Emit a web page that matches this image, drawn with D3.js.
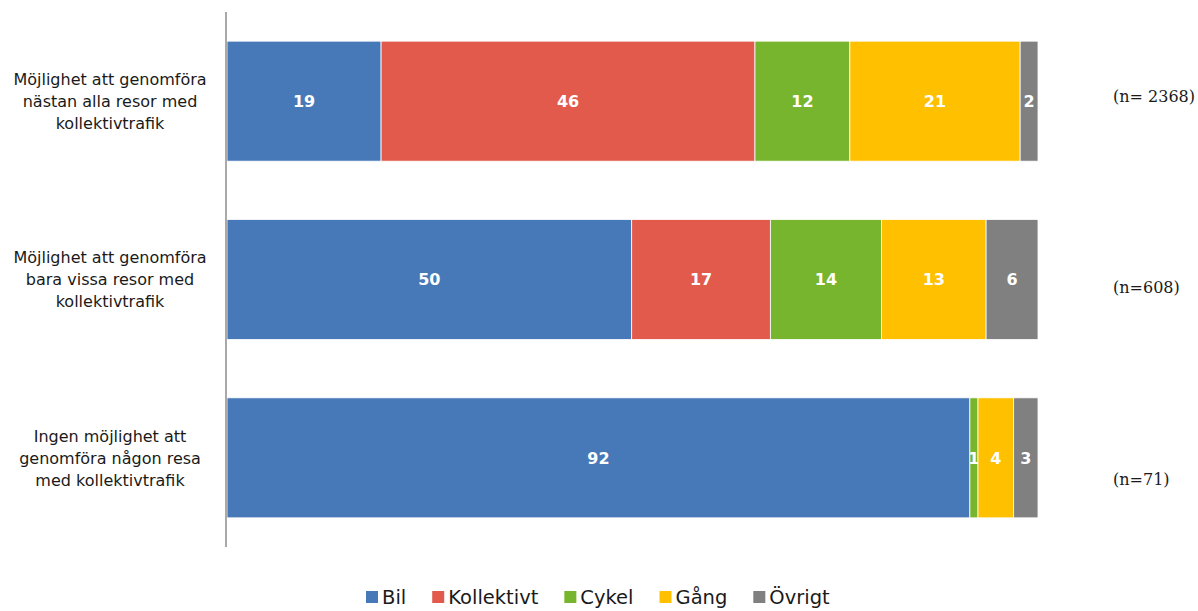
<!DOCTYPE html>
<html>
<head>
<meta charset="utf-8">
<script src="https://cdn.jsdelivr.net/npm/d3@7"></script>
<style>
  body { margin: 0; background: #fff; }
  svg { display: block; }
</style>
</head>
<body>
<svg id="chart" width="1198" height="611"></svg>
<script>
const categories = [
  ['Möjlighet att genomföra', 'nästan alla resor med', 'kollektivtrafik'],
  ['Möjlighet att genomföra', 'bara vissa resor med', 'kollektivtrafik'],
  ['Ingen möjlighet att', 'genomföra någon resa', 'med kollektivtrafik'],
];
const seriesNames = ['Bil', 'Kollektivt', 'Cykel', 'Gång', 'Övrigt'];
const colors = ['#4779b9', '#e15a4c', '#78b52e', '#ffc000', '#808080'];
const bil = [19.0, 49.9, 91.6];
const kollektivt = [46.1, 17.1, 0];
const cykel = [11.7, 13.7, 1.0];
const gang = [21.0, 12.9, 4.4];
const ovrigt = [2.2, 6.4, 3.0];
const nLabels = ['(n= 2368)', '(n=608)', '(n=71)'];

const seriesValues = [bil, kollektivt, cykel, gang, ovrigt];
const rows = categories.map((c, i) => {
  const row = { idx: i };
  seriesNames.forEach((s, j) => { row[s] = seriesValues[j][i]; });
  return row;
});

const svg = d3.select('#chart');
const margin = { top: 12, left: 227, right: 160, bottom: 64 };
const width = 1198 - margin.left - margin.right;
const height = 611 - margin.top - margin.bottom;

const x = d3.scaleLinear().domain([0, 100]).range([0, width]);
const y = d3.scaleBand().domain(d3.range(categories.length)).range([0, height])
  .paddingInner(0.327).paddingOuter(0.1635);

const g = svg.append('g').attr('transform', `translate(${margin.left},${margin.top})`);

const stack = d3.stack().keys(seriesNames);
const stacked = stack(rows);

const layers = g.selectAll('g.layer')
  .data(stacked)
  .enter()
  .append('g')
  .attr('class', 'layer')
  .attr('fill', (d, i) => colors[i]);

layers.selectAll('rect')
  .data(d => d)
  .enter()
  .append('rect')
  .attr('x', d => x(d[0]))
  .attr('y', d => y(d.data.idx))
  .attr('width', d => Math.max(0, x(d[1]) - x(d[0])))
  .attr('height', y.bandwidth())
  .attr('stroke', '#fff')
  .attr('stroke-width', 0.8);

// value labels
layers.selectAll('text')
  .data(d => d.filter(p => p[1] - p[0] > 0))
  .enter()
  .append('text')
  .attr('x', d => x((d[0] + d[1]) / 2))
  .attr('y', d => y(d.data.idx) + y.bandwidth() / 2)
  .attr('dy', '0.36em')
  .attr('text-anchor', 'middle')
  .attr('fill', '#fff')
  .attr('font-family', 'DejaVu Sans, Verdana, sans-serif')
  .attr('font-weight', 'bold')
  .attr('font-size', 16)
  .text(d => Math.round(d[1] - d[0]));

// axis line
g.append('line')
  .attr('x1', -1).attr('x2', -1)
  .attr('y1', 0).attr('y2', height)
  .attr('stroke', '#8c8c8c')
  .attr('stroke-width', 1.5);

// category labels
const catText = g.selectAll('text.cat')
  .data(categories)
  .enter()
  .append('text')
  .attr('class', 'cat')
  .attr('text-anchor', 'middle')
  .attr('font-family', 'DejaVu Sans, sans-serif')
  .attr('font-size', 16)
  .attr('fill', '#1a1a1a')
  .attr('transform', (d, i) => `translate(${-117},${y(i) + y.bandwidth() / 2})`);
catText.selectAll('tspan')
  .data(d => d)
  .enter()
  .append('tspan')
  .attr('x', 0)
  .attr('y', (d, i) => (i - 1) * 22)
  .attr('dy', '0.36em')
  .text(d => d);

// n labels
const nOffsets = [-5, 8, 21];
g.selectAll('text.n')
  .data(nLabels)
  .enter()
  .append('text')
  .attr('class', 'n')
  .attr('x', width + 75)
  .attr('y', (d, i) => y(i) + y.bandwidth() / 2 + nOffsets[i])
  .attr('dy', '0.36em')
  .attr('font-family', 'Georgia, DejaVu Serif, serif')
  .attr('font-size', 16)
  .attr('fill', '#1a1a1a')
  .text(d => d);

// legend
const legend = svg.append('g').attr('transform', 'translate(366,597)');
let lx = 0;
seriesNames.forEach((s, i) => {
  const item = legend.append('g').attr('transform', `translate(${lx},0)`);
  item.append('rect')
    .attr('x', 0).attr('y', -6)
    .attr('width', 12).attr('height', 12)
    .attr('fill', colors[i]);
  const t = item.append('text')
    .attr('x', 16)
    .attr('dy', '0.36em')
    .attr('font-family', 'DejaVu Sans, sans-serif')
    .attr('font-size', 19.5)
    .attr('fill', '#1a1a1a')
    .text(s);
  lx += 16 + t.node().getComputedTextLength() + 26;
});
</script>
</body>
</html>
